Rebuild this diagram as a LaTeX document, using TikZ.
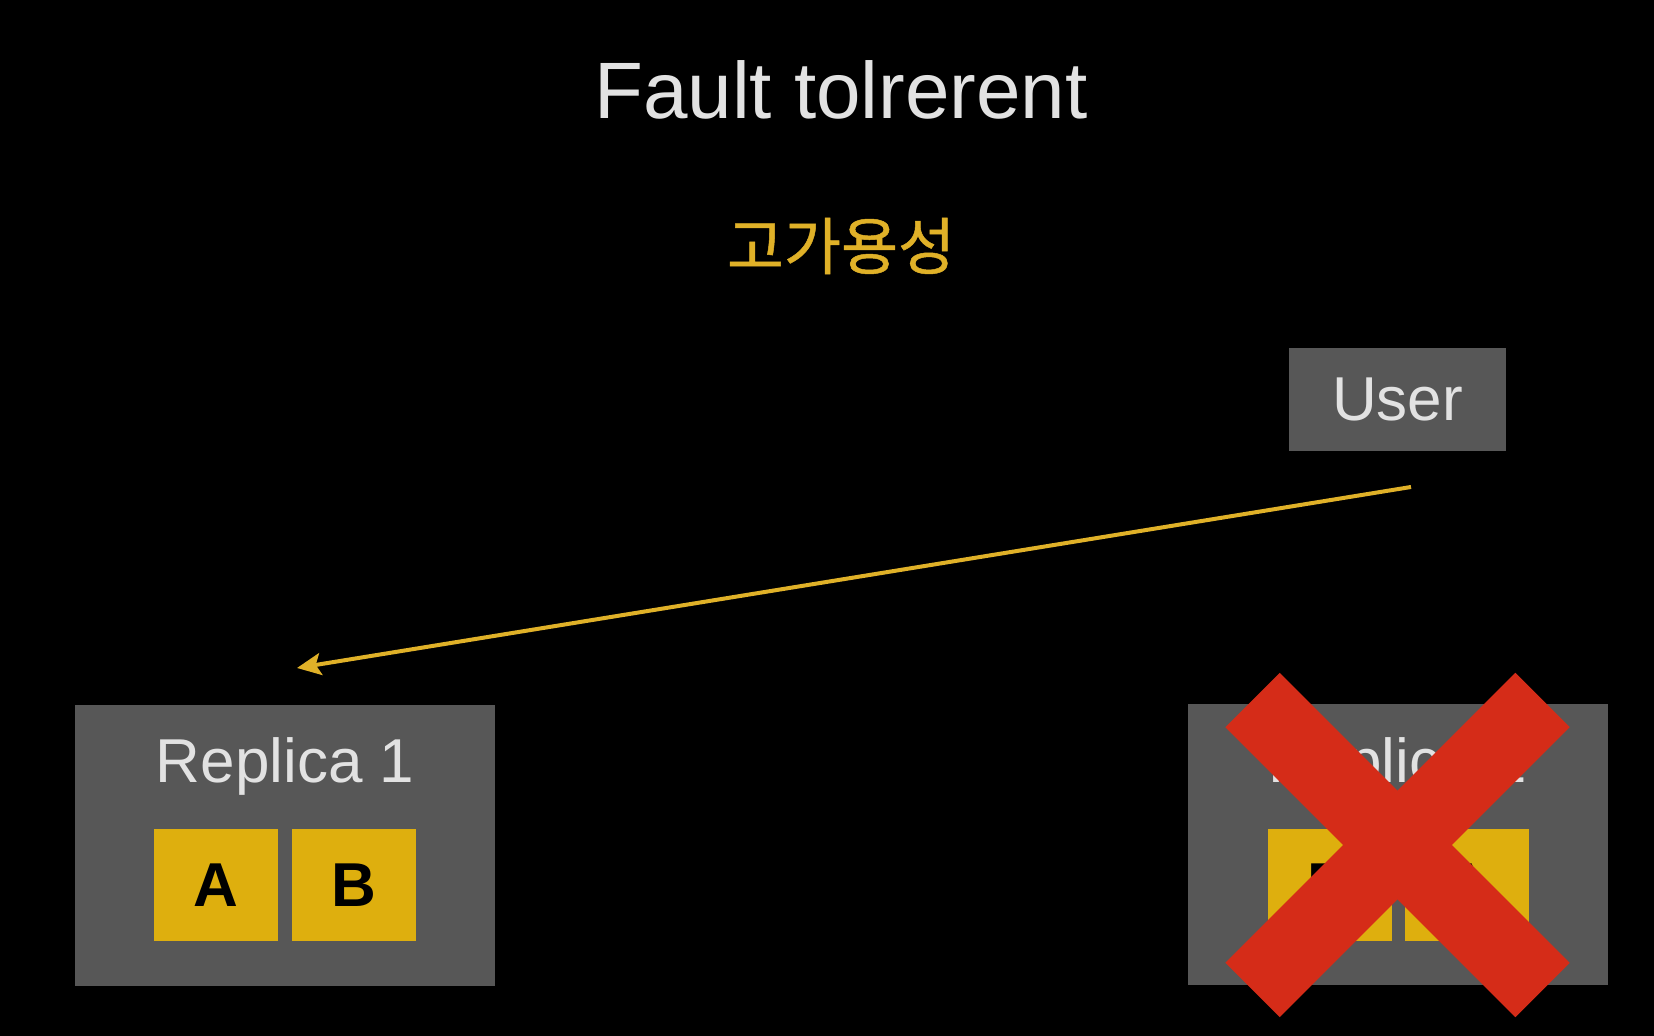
\documentclass[tikz,border=0pt]{standalone}
\usepackage{fontspec}
\setmainfont{Liberation Sans}
\newfontfamily\kofont[FakeBold=0.8]{Noto Sans CJK KR}
\usetikzlibrary{arrows.meta, calc, positioning}

\definecolor{boxgray}{HTML}{575757}
\definecolor{tilegold}{HTML}{DEAF0E}
\definecolor{arrowgold}{HTML}{E0B128}
\definecolor{crossred}{HTML}{D52C18}
\definecolor{textgray}{HTML}{E2E2E2}

\begin{document}
\begin{tikzpicture}[x=0.5pt, y=0.5pt, >={Stealth[length=12pt, width=11pt, inset=2.5pt]},
    replica/.style={fill=boxgray, minimum width=210pt, minimum height=140.5pt, inner sep=0pt},
    tile/.style={fill=tilegold, minimum width=62pt, minimum height=56pt, inner sep=0pt, text=black, font=\fontsize{31}{31}\selectfont\bfseries},
    replabel/.style={anchor=base, text=textgray, font=\fontsize{31}{31}\selectfont}]
    % Background
    \fill[black] (0,0) rectangle (1654,1036);
    \useasboundingbox (0,0) rectangle (1654,1036);

    % Titles
    \node[anchor=base, text=textgray, font=\fontsize{40}{40}\selectfont] (title) at (841,917) {Fault tolrerent};
    \node[text=arrowgold, font=\kofont\fontsize{31}{31}\selectfont] (subtitle) at (841,790) {고가용성};

    % User
    \node[replica, minimum width=108.5pt, minimum height=51.5pt, text=textgray, font=\fontsize{31}{31}\selectfont] (user) at (1397.5,636.5) {User};

    % Replica 1
    \node[replica] (rep1) at (285,190.5) {};
    \node[replabel] (rep1lbl) at (285,253) {Replica 1};
    \node[tile] (rep1a) at (216,151) {A};
    \node[tile] (rep1b) at (354,151) {B};

    % Replica 2
    \node[replica] (rep2) at (1397.5,191) {};
    \node[replabel] (rep2lbl) at (1397.5,253) {Replica 2};
    \node[tile] (rep2a) at (1329.5,151) {B};
    \node[tile] (rep2b) at (1467,151) {A};

    % Request
    \coordinate (req) at (1411,549);
    \coordinate (hit) at (297,368);
    \draw[->, arrowgold, line width=2pt] (req) -- (hit);

    % Cross out replica 2
    \draw[crossred, line width=38.5pt] ($(rep2)+(-145,145)$) -- ($(rep2)+(145,-145)$);
    \draw[crossred, line width=38.5pt] ($(rep2)+(145,145)$) -- ($(rep2)+(-145,-145)$);
\end{tikzpicture}
\end{document}
